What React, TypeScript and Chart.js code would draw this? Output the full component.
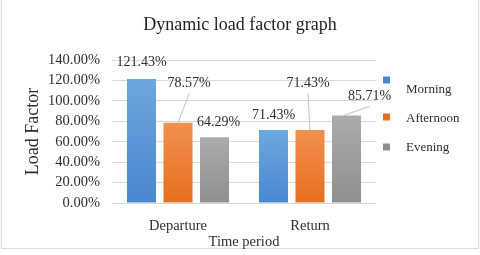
import React, { useEffect, useRef } from 'react';
import { Chart, registerables } from 'chart.js';

Chart.register(...registerables);

// ---- data ----
const categories = ['Departure', 'Return'];
const seriesNames = ['Morning', 'Afternoon', 'Evening'];
const morning = [121.43, 71.43];
const afternoon = [78.57, 71.43];
const evening = [64.29, 85.71];
const yTicks = [0, 20, 40, 60, 80, 100, 120, 140];
const chartTitle = 'Dynamic load factor graph';

// ---- styles ----
const FONT = '"Liberation Serif", "Times New Roman", serif';
const TEXT = '#2e2e2e';
const colorsTop = ['#6ea6df', '#f2904f', '#ababab'];
const colorsBottom = ['#4888cf', '#e56f1d', '#8f8f8f'];
// data label placement relative to bar-top centre: [dx, dy, leaderLine]
const labelPlacement: [number, number, boolean][][] = [
  [[0, -17, false], [0, -15, false]],
  [[11, -39, true], [-2, -47, true]],
  [[4, -15, false], [23, -19, true]],
];
// legend layout
const legendBoxX = 383;
const legendTextX = 406;
const legendTextY = [90, 119, 148];
const legendBoxY = [80, 117, 147];
const titleY = 25;

function gradientFor(i: number) {
  return (ctx: any) => {
    const chart = ctx.chart;
    const yScale = chart.scales?.y;
    if (!yScale || ctx.type !== 'data') return colorsBottom[i];
    const v = ctx.raw as number;
    const top = yScale.getPixelForValue(v);
    const bottom = yScale.getPixelForValue(0);
    if (!isFinite(top) || !isFinite(bottom) || top === bottom) return colorsBottom[i];
    const g = chart.ctx.createLinearGradient(0, top, 0, bottom);
    g.addColorStop(0, colorsTop[i]);
    g.addColorStop(1, colorsBottom[i]);
    return g;
  };
}

const framePlugin = {
  id: 'frame',
  beforeDraw(chart: any) {
    const c = chart.ctx;
    c.save();
    c.fillStyle = '#ffffff';
    c.fillRect(0, 0, chart.width, chart.height);
    c.strokeStyle = '#dcdcdc';
    c.lineWidth = 1;
    c.strokeRect(1.5, -5, 477, 253.5);
    c.font = `18px ${FONT}`;
    c.fillStyle = '#1f1f1f';
    c.textAlign = 'center';
    c.textBaseline = 'middle';
    c.fillText(chartTitle, chart.width / 2, titleY);
    c.restore();
  },
};

const dataLabelPlugin = {
  id: 'dataLabels',
  afterDatasetsDraw(chart: any) {
    const c = chart.ctx;
    c.save();
    c.font = `14px ${FONT}`;
    c.fillStyle = TEXT;
    c.textAlign = 'center';
    c.textBaseline = 'middle';
    chart.data.datasets.forEach((ds: any, i: number) => {
      const meta = chart.getDatasetMeta(i);
      meta.data.forEach((el: any, j: number) => {
        const [dx, dy, leader] = labelPlacement[i][j];
        const lx = el.x + dx;
        const ly = el.y + dy;
        if (leader) {
          c.strokeStyle = '#b4c4dc';
          c.lineWidth = 1;
          c.beginPath();
          c.moveTo(el.x - (dx > 15 ? 3 : 0), el.y);
          c.lineTo(lx, ly + 10);
          c.stroke();
        }
        c.fillText(`${(ds.data[j] as number).toFixed(2)}%`, lx, ly);
      });
    });
    c.restore();
  },
};

const legendPlugin = {
  id: 'customLegend',
  afterDraw(chart: any) {
    const c = chart.ctx;
    c.save();
    c.font = `13px ${FONT}`;
    c.textAlign = 'left';
    c.textBaseline = 'middle';
    chart.data.datasets.forEach((ds: any, i: number) => {
      c.fillStyle = colorsBottom[i];
      c.fillRect(legendBoxX, legendBoxY[i] - 3.5, 7, 7);
      c.fillStyle = TEXT;
      c.fillText(ds.label, legendTextX, legendTextY[i]);
    });
    c.restore();
  },
};

export default function App() {
  const ref = useRef<HTMLCanvasElement | null>(null);

  useEffect(() => {
    document.body.style.margin = '0';
    const canvas = ref.current;
    if (!canvas) return;
    const series = [morning, afternoon, evening];
    const chart = new Chart(canvas, {
      type: 'bar',
      data: {
        labels: categories,
        datasets: series.map((d, i) => ({
          label: seriesNames[i],
          data: d,
          backgroundColor: gradientFor(i),
          borderWidth: 0,
          categoryPercentage: 0.83,
          barPercentage: 0.795,
        })),
      },
      options: {
        responsive: false,
        animation: false,
        devicePixelRatio: 1,
        layout: { padding: { left: 0, right: 104, top: 60, bottom: 0 } },
        plugins: {
          legend: { display: false },
          tooltip: { enabled: false },
          title: { display: false },
        },
        scales: {
          x: {
            grid: { display: false, drawTicks: false },
            border: { display: false },
            ticks: { color: TEXT, font: { family: FONT, size: 14.5 }, padding: 14 },
            title: {
              display: true,
              text: 'Time period',
              color: TEXT,
              font: { family: FONT, size: 14.5 },
              padding: { top: 0, bottom: 4 },
            },
            afterFit: (s: any) => {
              s.height = 52;
            },
          },
          y: {
            min: 0,
            max: 140,
            grid: { color: '#d9d9d9', drawTicks: false },
            border: { display: false },
            afterBuildTicks: (s: any) => {
              s.ticks = yTicks.map((v) => ({ value: v }));
            },
            ticks: {
              color: TEXT,
              font: { family: FONT, size: 14.5 },
              padding: 12,
              callback: (v: any) => `${Number(v).toFixed(2)}%`,
            },
            title: {
              display: true,
              text: 'Load Factor',
              color: TEXT,
              font: { family: FONT, size: 18 },
              padding: { top: 22, bottom: 0 },
            },
            afterFit: (s: any) => {
              s.width = 112;
            },
          },
        },
      },
      plugins: [framePlugin, dataLabelPlugin, legendPlugin],
    });
    return () => chart.destroy();
  }, []);

  return (
    <canvas
      ref={ref}
      width={480}
      height={255}
      style={{ display: 'block', width: 480, height: 255 }}
    />
  );
}
